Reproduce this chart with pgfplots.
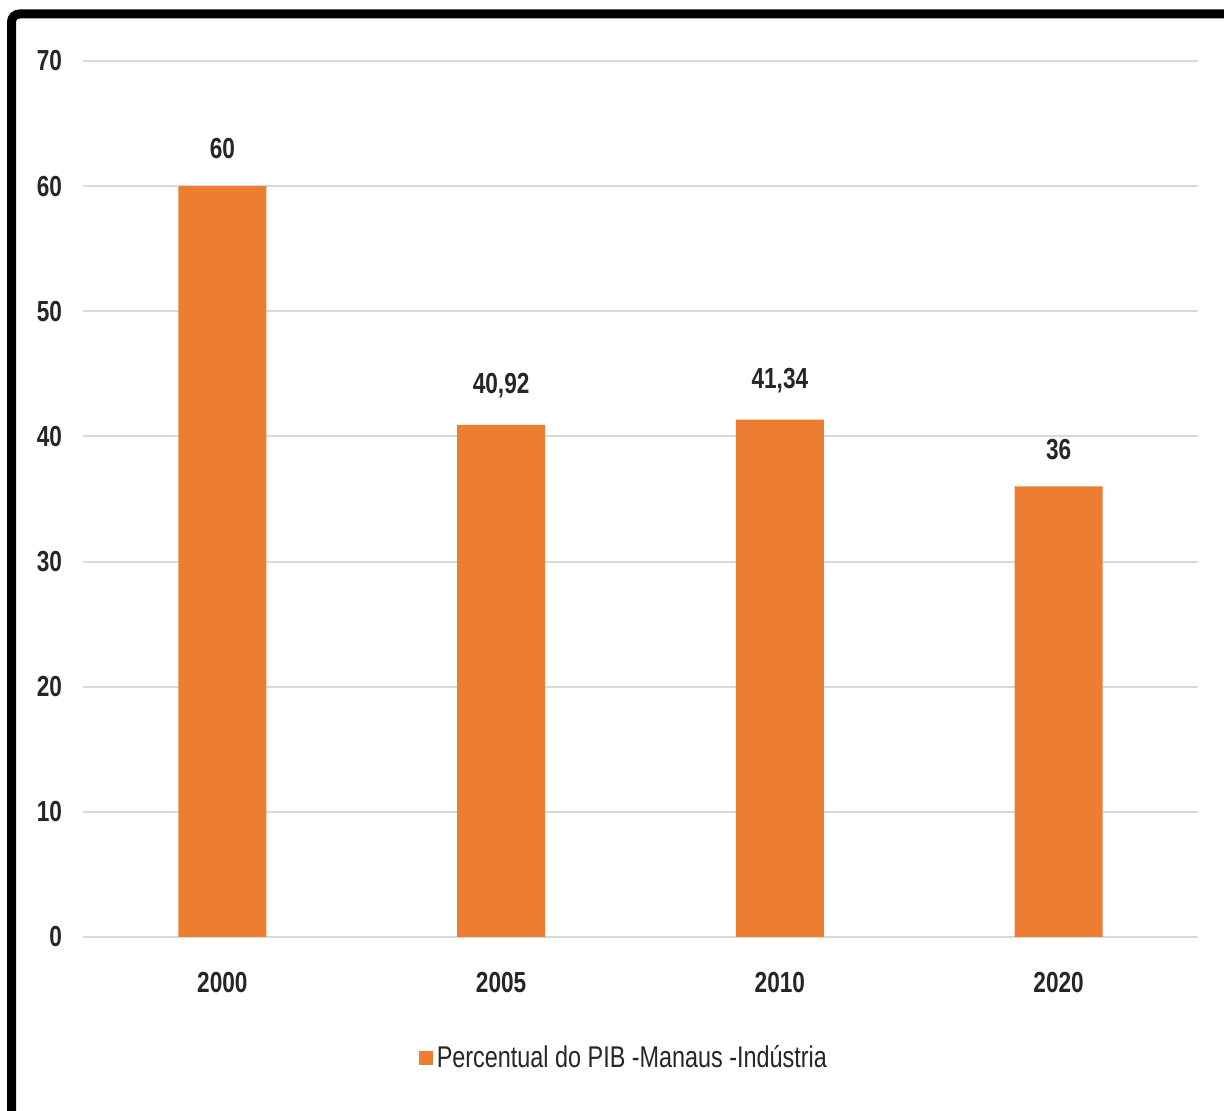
\documentclass[border=0pt]{standalone}
\usepackage{pgfplots}
\pgfplotsset{compat=1.18}
\usepackage{fontspec}
\setmainfont{Liberation Sans}[FakeStretch=0.78]
\definecolor{barorange}{HTML}{ED7D31}
\definecolor{gridgray}{HTML}{D9D9D9}
\definecolor{txt}{HTML}{262626}
\begin{document}
\begin{tikzpicture}[x=0.5pt,y=0.5pt]
\useasboundingbox (0,0) rectangle (1224,1111);
\begin{scope}
\clip (0,0) rectangle (1224,1111);
\draw[line width=4.5pt, rounded corners=4pt] (11.5,-20) -- (11.5,1097) -- (1260,1097);
\end{scope}
\begin{axis}[
  at={(41.5pt,87pt)}, anchor=south west,
  scale only axis, width=557.5pt, height=438pt,
  ymin=0, ymax=70, ytick={0,10,...,70},
  xmin=-0.5, xmax=3.5, xtick=data,
  xticklabels={2000,2005,2010,2020},
  axis line style={draw=none},
  ymajorgrids, grid style={gridgray, line width=1pt},
  major tick length=0pt,
  tick label style={font=\fontsize{14.5}{16}\selectfont\bfseries, text=txt},
  /pgf/number format/assume math mode=true,
  yticklabel style={xshift=-7pt},
  xticklabel style={yshift=-14pt},
  ybar, bar width=44pt, bar shift=0pt,
  nodes near coords,
  every node near coord/.append style={font=\fontsize{14.5}{16}\selectfont\bfseries, text=txt, yshift=10pt},
  point meta=explicit symbolic,
  legend style={at={(0.486,-0.138)}, anchor=center, draw=none, font=\fontsize{15}{17}\selectfont, text=txt},
  legend image code/.code={\fill[#1] (0pt,-3.5pt) rectangle (7pt,3.5pt);},
]
\addplot[fill=barorange, draw=none] coordinates {(0,60) [60] (1,40.92) [40,92] (2,41.34) [41,34] (3,36) [36]};
\addlegendentry{Percentual do PIB -Manaus -Indústria}
\end{axis}
\end{tikzpicture}
\end{document}
